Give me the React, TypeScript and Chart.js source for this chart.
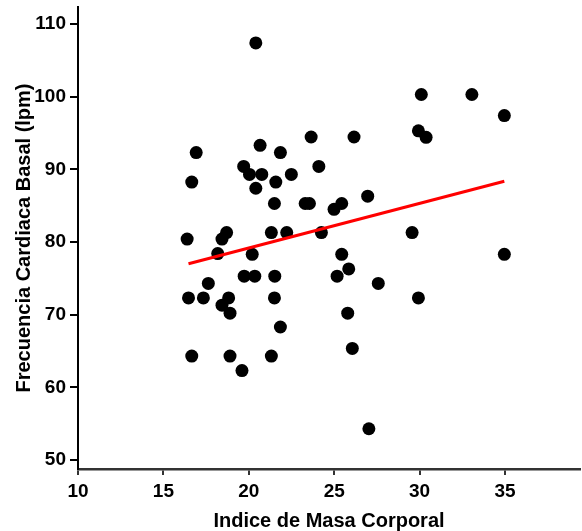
import React, { useEffect, useRef } from "react";
import { Chart, registerables } from "chart.js";

Chart.register(...registerables);

// Body-mass index (x) and basal heart rate (y) of each subject
const bmi = [
  20.41, 16.92, 16.66, 16.39, 18.43, 18.7, 19.7, 20.04, 20.66, 20.76, 21.85, 20.41, 21.58, 22.49,
  23.65, 24.1, 21.5, 23.3, 23.55, 21.32, 22.22, 24.25, 30.1, 33.06, 34.96, 29.93, 30.38, 26.16,
  24.99, 25.44, 26.96, 29.56, 18.18, 20.2, 19.73, 20.35, 21.52, 17.63, 16.47, 17.34, 18.82, 18.43,
  18.9, 21.5, 21.85, 16.66, 18.9, 19.6, 21.32, 25.44, 34.96, 25.85, 25.17, 27.58, 29.93, 25.79,
  26.06, 27.03,
];
const heartRate = [
  107.4, 92.3, 88.25, 80.4, 80.4, 81.3, 90.4, 89.3, 93.3, 89.3, 92.3, 87.4, 88.25, 89.3,
  94.45, 90.4, 85.3, 85.3, 85.3, 81.3, 81.3, 81.3, 100.3, 100.3, 97.4, 95.3, 94.4, 94.45,
  84.5, 85.3, 86.3, 81.3, 78.4, 78.3, 75.3, 75.3, 75.3, 74.3, 72.3, 72.3, 72.3, 71.3,
  70.2, 72.3, 68.3, 64.3, 64.3, 62.3, 64.3, 78.3, 78.3, 76.3, 75.3, 74.3, 72.3, 70.2,
  65.35, 54.3,
];

// Regression line end points
const fitX = [16.47, 34.96];
const fitY = [77.0, 88.35];

const xTicks = [10, 15, 20, 25, 30, 35];
const yTicks = [50, 60, 70, 80, 90, 100, 110];

const xTitle = "Indice de Masa Corporal";
const yTitle = "Frecuencia Cardiaca Basal (lpm)";

const FONT = "'Liberation Sans', Arial, Helvetica, sans-serif";

export default function App() {
  const ref = useRef<HTMLCanvasElement>(null);

  useEffect(() => {
    document.body.style.margin = "0";
    const canvas = ref.current;
    if (!canvas) return;

    const points = bmi.map((x, i) => ({ x, y: heartRate[i] }));
    const fit = fitX.map((x, i) => ({ x, y: fitY[i] }));

    const chart = new Chart(canvas, {
      type: "scatter",
      data: {
        datasets: [
          {
            type: "line",
            data: fit,
            borderColor: "#ff0000",
            borderWidth: 3,
            pointRadius: 0,
            fill: false,
            order: 0,
          } as any,
          {
            type: "scatter",
            data: points,
            backgroundColor: "#000000",
            borderColor: "#000000",
            borderWidth: 0,
            pointRadius: 6.5,
            order: 1,
          },
        ],
      },
      options: {
        animation: false,
        responsive: false,
        devicePixelRatio: 1,
        layout: { autoPadding: false, padding: { top: 7, right: 2, bottom: 0, left: 0 } },
        plugins: { legend: { display: false }, tooltip: { enabled: false } },
        scales: {
          x: {
            type: "linear",
            position: "bottom",
            min: 10,
            max: 39.39,
            afterBuildTicks: (s: any) => {
              s.ticks = xTicks.map((v) => ({ value: v }));
            },
            afterFit: (s: any) => {
              s.height = 62;
              s.paddingLeft = 0;
              s.paddingRight = 0;
              s.paddingTop = 0;
              s.paddingBottom = 0;
            },
            grid: {
              drawOnChartArea: false,
              drawTicks: true,
              tickLength: 6,
              color: "#333333",
              lineWidth: 2,
            },
            border: { display: true, color: "#333333", width: 2.5 },
            ticks: {
              color: "#000000",
              padding: 5,
              maxRotation: 0,
              autoSkip: false,
              font: { family: FONT, size: 19, weight: "bold" },
            },
            title: {
              display: true,
              text: xTitle,
              color: "#000000",
              font: { family: FONT, size: 20, weight: "bold", lineHeight: 1 },
              padding: { top: 0, bottom: 0 },
            },
          },
          y: {
            type: "linear",
            position: "left",
            min: 48.76,
            max: 112.34,
            afterBuildTicks: (s: any) => {
              s.ticks = yTicks.map((v) => ({ value: v }));
            },
            afterFit: (s: any) => {
              s.width = 78;
              s.paddingLeft = 0;
              s.paddingRight = 0;
              s.paddingTop = 0;
              s.paddingBottom = 0;
            },
            grid: {
              drawOnChartArea: false,
              drawTicks: true,
              tickLength: 8,
              color: "#000000",
              lineWidth: 2,
            },
            border: { display: true, color: "#000000", width: 2 },
            ticks: {
              color: "#000000",
              padding: 4,
              autoSkip: false,
              font: { family: FONT, size: 19, weight: "bold" },
            },
            title: {
              display: true,
              text: yTitle,
              color: "#000000",
              font: { family: FONT, size: 20, weight: "bold", lineHeight: 1 },
              padding: { top: 14, bottom: 0 },
            },
          },
        },
      },
    });

    return () => chart.destroy();
  }, []);

  return (
    <div style={{ width: 582, height: 531 }}>
      <canvas ref={ref} width={582} height={531} style={{ display: "block" }} />
    </div>
  );
}
